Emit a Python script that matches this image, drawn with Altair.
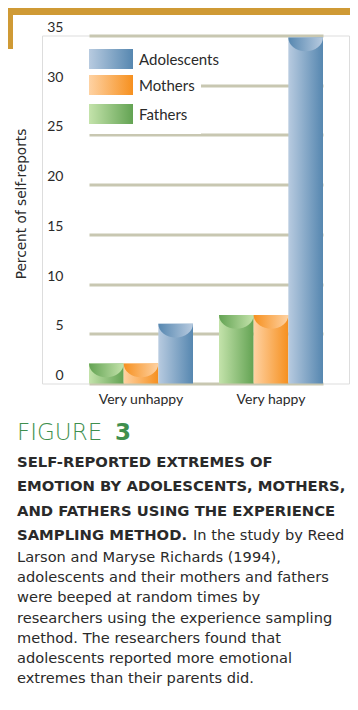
import altair as alt
import pandas as pd

# ---------------- data ----------------
categories = ["Very unhappy", "Very happy"]
bar_order = ["Fathers", "Mothers", "Adolescents"]
legend_order = ["Adolescents", "Mothers", "Fathers"]
fathers = [2, 6.9]
mothers = [2, 6.9]
adolescents = [6, 34.8]
y_ticks = [0, 5, 10, 15, 20, 25, 30, 35]
y_title = "Percent of self-reports"

fig_word = "FIGURE"
fig_num = "3"
bold_lines = [
    "SELF-REPORTED EXTREMES OF",
    "EMOTION BY ADOLESCENTS, MOTHERS,",
    "AND FATHERS USING THE EXPERIENCE",
    "SAMPLING METHOD.",
]
first_regular = "In the study by Reed"
regular_lines = [
    "Larson and Maryse Richards (1994),",
    "adolescents and their mothers and fathers",
    "were beeped at random times by",
    "researchers using the experience sampling",
    "method. The researchers found that",
    "adolescents reported more emotional",
    "extremes than their parents did.",
]

rows = []
for s, vals in zip(["Fathers", "Mothers", "Adolescents"], [fathers, mothers, adolescents]):
    for c, v in zip(categories, vals):
        rows.append({"category": c, "series": s, "value": v})
df = pd.DataFrame(rows)

# ---------------- style ----------------
FONT = "Lato"
CAP = "DejaVu Sans"
TXT = "#2a2a2a"
GRID = "#c8c7b1"
GOLD = "#cf9a35"
W, H = 307, 348

colors = {
    "Adolescents": ("#b8cbe0", "#5687b0"),
    "Mothers": ("#fed2a3", "#f6901f"),
    "Fathers": ("#c4e3ab", "#63a353"),
}


def grad(light, dark):
    return alt.LinearGradient(
        gradient="linear",
        stops=[alt.GradientStop(color=light, offset=0), alt.GradientStop(color=dark, offset=1)],
        x1=0, x2=1, y1=0, y2=0,
    )


x_enc = alt.X(
    "category:N",
    sort=categories,
    scale=alt.Scale(domain=categories, range=[47, 281], paddingInner=0.2, paddingOuter=0),
    axis=alt.Axis(
        title=None, domain=False, ticks=False, labelPadding=9, labelFontSize=14,
        labelFont=FONT, labelColor=TXT, labelAngle=0,
    ),
)
xoff_enc = alt.XOffset(
    "series:N", sort=bar_order,
    scale=alt.Scale(domain=bar_order, paddingInner=0, paddingOuter=0),
)
y_enc = alt.Y(
    "value:Q",
    scale=alt.Scale(domain=[0, 35], nice=False),
    axis=alt.Axis(
        values=y_ticks, title=y_title, domain=False, ticks=False, tickSize=0,
        grid=True, gridColor=GRID, gridWidth=3, gridOpacity=1,
        labelAlign="right", labelBaseline="alphabetic", labelOffset=-4,
        labelPadding=-21, labelFontSize=14, labelFont=FONT, labelColor=TXT,
        titleFont=CAP, titleFontSize=13.7, titleFontWeight="normal", titleColor=TXT,
        titleAngle=270, titleX=-21, titleY=168, titleAlign="center", titleBaseline="middle",
    ),
)

layers = []
for s in bar_order:
    light, dark = colors[s]
    base = alt.Chart(df).transform_filter(alt.datum.series == s)
    layers.append(
        base.mark_bar(color=grad(light, dark), strokeWidth=0).encode(x=x_enc, xOffset=xoff_enc, y=y_enc)
    )
    layers.append(
        base.mark_point(
            shape="M-1,0 A1,0.8 0 0,0 1,0 Z", size=1202, filled=True, opacity=1,
            fill=grad(dark, light), strokeWidth=0,
        ).encode(x=x_enc, xOffset=xoff_enc, y=y_enc)
    )

one = pd.DataFrame({"k": [0]})

# gold frame
layers.append(alt.Chart(one).mark_rect(color=GOLD).encode(
    x=alt.value(-34), x2=alt.value(310), y=alt.value(-27.5), y2=alt.value(-20.5)))
layers.append(alt.Chart(one).mark_rect(color=GOLD).encode(
    x=alt.value(-34), x2=alt.value(-29), y=alt.value(-21), y2=alt.value(13.5)))

# legend box
layers.append(alt.Chart(one).mark_rect(color="white").encode(
    x=alt.value(40), x2=alt.value(159), y=alt.value(2.5), y2=alt.value(98.5)))
leg_y = [23.5, 49.5, 78.5]
for s, yc in zip(legend_order, leg_y):
    light, dark = colors[s]
    ld = pd.DataFrame({"series": [s]})
    layers.append(alt.Chart(ld).mark_rect(color=grad(light, dark)).encode(
        x=alt.value(47), x2=alt.value(91), y=alt.value(yc - 10), y2=alt.value(yc + 10)))
    layers.append(alt.Chart(ld).mark_text(
        align="left", baseline="middle", font=FONT, fontSize=15, color=TXT).encode(
        x=alt.value(97), y=alt.value(yc + 1), text="series:N"))

# caption text
layers.append(alt.Chart(one).mark_text(
    text=fig_word, align="left", baseline="alphabetic", font=CAP, fontSize=23,
    fontWeight=200, color="#3f8f4e").encode(x=alt.value(-25), y=alt.value(404.5)))
layers.append(alt.Chart(one).mark_text(
    text=fig_num, align="left", baseline="alphabetic", font=CAP, fontSize=23,
    fontWeight="bold", color="#3f8f4e").encode(x=alt.value(73), y=alt.value(404.5)))
layers.append(alt.Chart(one).mark_text(
    text=bold_lines, align="left", baseline="alphabetic", font=CAP, fontSize=14.8,
    fontWeight="bold", color=TXT, lineHeight=24.3).encode(x=alt.value(-25), y=alt.value(431.5)))
layers.append(alt.Chart(one).mark_text(
    text=first_regular, align="left", baseline="alphabetic", font=CAP, fontSize=14.6,
    color=TXT).encode(x=alt.value(151), y=alt.value(504.5)))
layers.append(alt.Chart(one).mark_text(
    text=regular_lines, align="left", baseline="alphabetic", font=CAP, fontSize=14.6,
    color=TXT, lineHeight=20.17).encode(x=alt.value(-25), y=alt.value(526.5)))

chart = alt.layer(*layers).properties(
    width=W, height=H,
    autosize=alt.AutoSizeParams(type="none"),
    padding={"left": 34, "top": 27.5, "right": 1, "bottom": 318.5},
).configure_view(stroke=None).configure(background="white")

chart.save("out.html", embed_options={"renderer": "svg", "actions": False})
